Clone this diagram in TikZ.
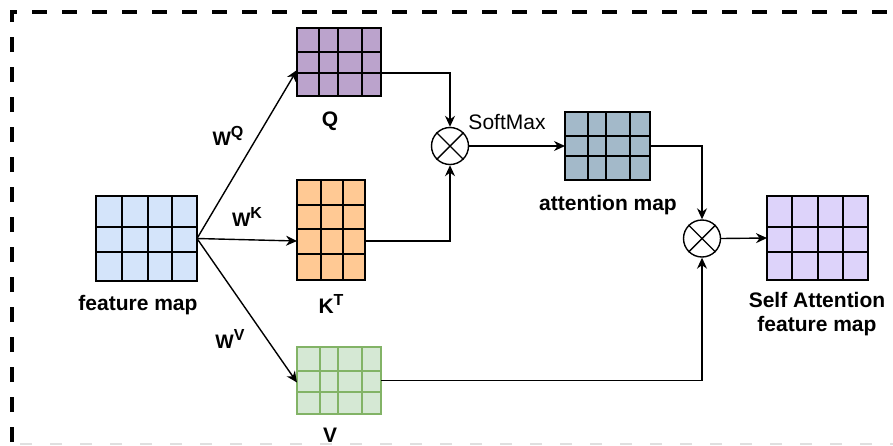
\documentclass[tikz,border=0pt]{standalone}
\usepackage{fontspec}
\setmainfont{Liberation Sans}
\usetikzlibrary{arrows.meta}
\definecolor{qfill}{HTML}{BBA3CC}
\definecolor{kfill}{HTML}{FFC994}
\definecolor{vfill}{HTML}{D5E8D4}
\definecolor{vline}{HTML}{82B366}
\definecolor{ffill}{HTML}{D4E4FA}
\definecolor{afill}{HTML}{A3B9C9}
\definecolor{sfill}{HTML}{DDD3FA}
\tikzset{
  cellbox/.style={rectangle, inner sep=0pt, outer sep=0pt, line width=1.6pt},
  blackgrid/.style={draw=black, line width=1.6pt},
  greengrid/.style={draw=vline, line width=1.6pt},
  arr/.style={-{Stealth[length=11pt,width=10pt]}, line width=1.4pt},
  otimes/.style={circle, draw, line width=1.4pt, minimum size=37pt, inner sep=0pt, fill=white},
  lbl/.style={font=\fontsize{21}{24}\selectfont\bfseries, inner sep=0pt},
  wlbl/.style={font=\fontsize{19.5}{22}\selectfont\bfseries, inner sep=0pt},
  soft/.style={font=\fontsize{21}{24}\selectfont, inner sep=0pt},
}
\newcommand\gridmap[8]{%
  \node[cellbox,#8,minimum width={#4-#2}, minimum height={#5-#3}, anchor=north west] (#1) at (#2,#3) {};
  \foreach \xx in {#6} \draw[#8,fill=none] (\xx,#3) -- (\xx,#5);
  \foreach \yy in {#7} \draw[#8,fill=none] (#2,\yy) -- (#4,\yy);
  \draw[#8,fill=none] (#1.north west) rectangle (#1.south east);
}
\newcommand\sups[1]{\raisebox{7.5pt}{\fontsize{16}{16}\selectfont #1}}
\begin{document}
\begin{tikzpicture}[x=1pt,y=-1pt]
\useasboundingbox (0,0) rectangle (893,445);
\fill[white] (0,0) rectangle (893,445);
% border
\draw[line width=4.8pt, dash pattern=on 15pt off 15pt, dash phase=12pt] (12,460) -- (12,12) -- (920,12);
\draw[black!12, line width=1.5pt, dash pattern=on 12pt off 18pt] (20,444) -- (893,444);
% grids
\gridmap{fm}{96}{196}{197}{281}{122,148,172}{227,252}{blackgrid,fill=ffill}
\gridmap{q}{297}{28}{381}{96}{319,338,362}{52,73}{blackgrid,fill=qfill}
\gridmap{k}{297}{180}{365}{280}{321,343}{205,229,254}{blackgrid,fill=kfill}
\gridmap{v}{297}{347}{381}{414}{320,338,362}{371,392}{greengrid,fill=vfill}
\gridmap{at}{565}{112}{650}{180}{588,606,630}{136,156}{blackgrid,fill=afill}
\gridmap{sa}{767}{196}{868}{280}{792,818,843}{227,252}{blackgrid,fill=sfill}
% multipliers
\node[otimes] (m1) at (450,146) {};
\draw[line width=1.4pt] (m1.north east) -- (m1.south west) (m1.north west) -- (m1.south east);
\node[otimes] (m2) at (702,238.5) {};
\draw[line width=1.4pt] (m2.north east) -- (m2.south west) (m2.north west) -- (m2.south east);
% arrows
\draw[arr] (fm.east) -- ([yshift=-8pt]q.west);
\draw[arr] (fm.east) -- ([yshift=-11pt]k.west);
\draw[arr] (fm.east) -- ([yshift=-2pt]v.west);
\draw[arr] ([yshift=-11pt]q.east) -| (m1.north);
\draw[arr] ([yshift=-11pt]k.east) -| (m1.south);
\draw[arr] (m1.east) -- (at.west);
\draw[arr] (at.east) -| (m2.north);
\draw[arr] (v.east) -| (m2.south);
\draw[arr] (m2.east) -- (sa.west);
% labels
\node[lbl] (lq) at (330,121) {Q};
\node[lbl] (lk) at (331,304) {K\sups{T}};
\node[lbl] (lv) at (330,435) {V};
\node[lbl] (lfm) at (138,305) {feature map};
\node[lbl] (lat) at (608,205) {attention map};
\node[lbl, align=center] (lsa) at (817,314) {Self Attention\\feature map};
\node[soft] (lsm) at (507,122) {SoftMax};
\node[wlbl] (wq) at (228,136) {W\sups{Q}};
\node[wlbl] (wk) at (247,217) {W\sups{K}};
\node[wlbl] (wv) at (230,339) {W\sups{V}};
\end{tikzpicture}
\end{document}
